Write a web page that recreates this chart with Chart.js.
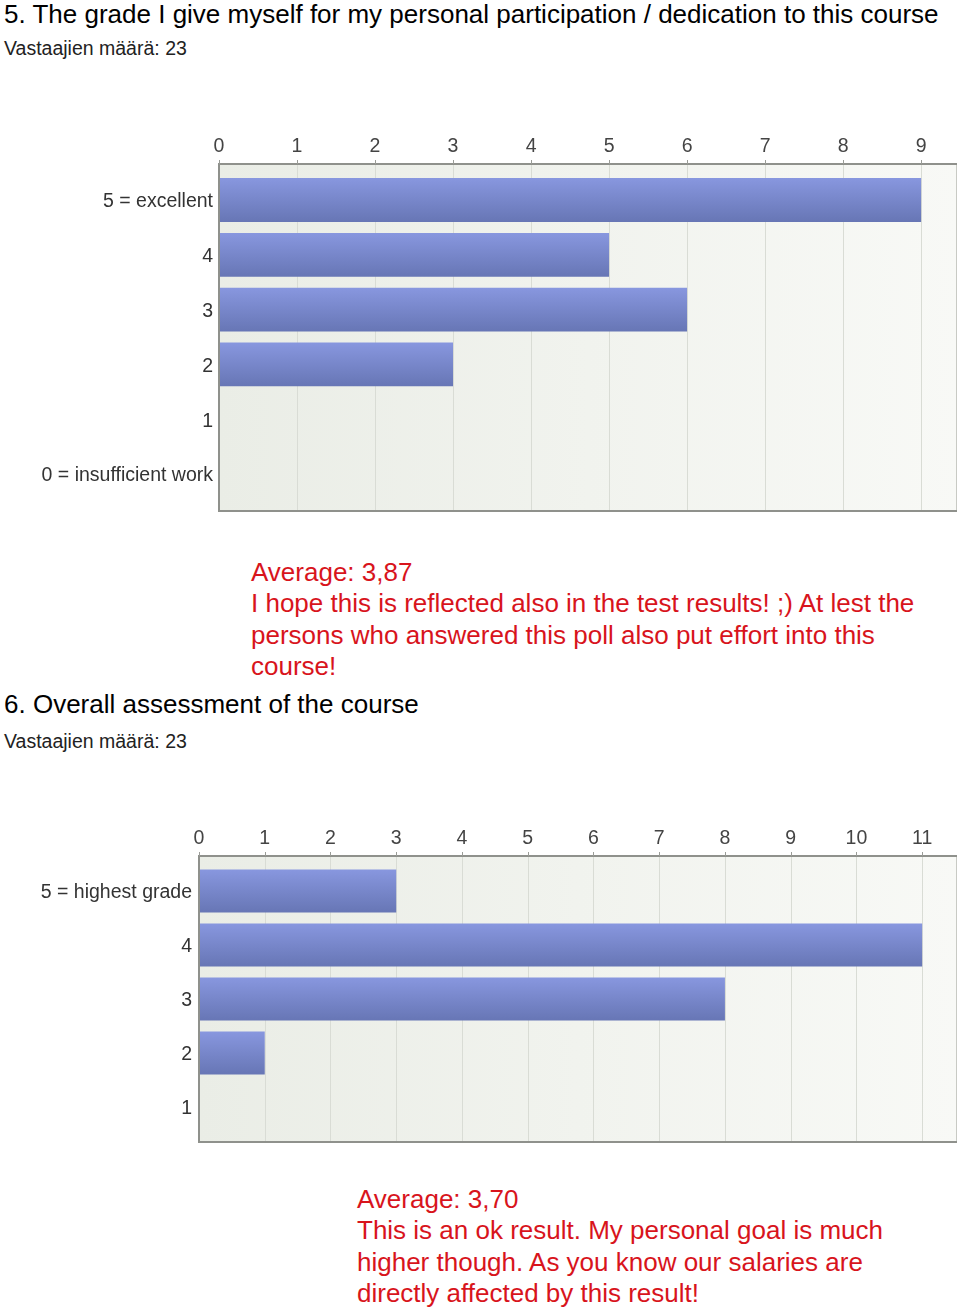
<!DOCTYPE html>
<html>
<head>
<meta charset="utf-8">
<script src="https://cdn.jsdelivr.net/npm/chart.js@4"></script>
<style>
  body { margin: 0; width: 960px; height: 1315px; background: #fff; position: relative; overflow: hidden;
         font-family: "Liberation Sans", Arial, sans-serif; }
  .txt { position: absolute; white-space: nowrap; }
  .q { font-size: 26px; line-height: 31.5px; color: #000; left: 4px; }
  .n { font-size: 19.5px; line-height: 24px; color: #222; left: 4px; }
  .red { font-size: 26px; line-height: 31.5px; color: #d8141c; }
  canvas { position: absolute; left: 0; }
</style>
</head>
<body>
<div class="txt q" style="top:-1px">5. The grade I give myself for my personal participation / dedication to this course</div>
<div class="txt n" style="top:36px">Vastaajien määrä: 23</div>
<canvas id="grade1" width="960" height="400" style="top:120px"></canvas>
<div class="txt red" style="top:556.5px;left:251px">Average: 3,87<br>I hope this is reflected also in the test results! ;) At lest the<br>persons who answered this poll also put effort into this<br>course!</div>
<div class="txt q" style="top:688.5px">6. Overall assessment of the course</div>
<div class="txt n" style="top:729px">Vastaajien määrä: 23</div>
<canvas id="grade2" width="960" height="340" style="top:810px"></canvas>
<div class="txt red" style="top:1183.5px;left:357px">Average: 3,70<br>This is an ok result. My personal goal is much<br>higher though. As you know our salaries are<br>directly affected by this result!</div>

<script>
// --- data ---
const labels1 = ['5 = excellent', '4', '3', '2', '1', '0 = insufficient work'];
const counts1 = [9, 5, 6, 3, 0, 0];
const ticks1 = [0, 1, 2, 3, 4, 5, 6, 7, 8, 9];

const labels2 = ['5 = highest grade', '4', '3', '2', '1'];
const counts2 = [3, 11, 8, 1, 0];
const ticks2 = [0, 1, 2, 3, 4, 5, 6, 7, 8, 9, 10, 11];

const font = { family: '"Liberation Sans", Arial, sans-serif', size: 19.5 };
const barPct = 0.8;

// vertical gradient per bar, placed with the category scale
function barFill(c) {
    const chart = c.chart;
    const y = chart.scales.y;
    if (!chart.chartArea || !y) return '#7888cc';
    const cy = y.getPixelForValue(c.dataIndex);
    const h = y.height / chart.data.labels.length * barPct;
    const g = chart.ctx.createLinearGradient(0, cy - h / 2, 0, cy + h / 2);
    g.addColorStop(0, '#8897df');
    g.addColorStop(1, '#6776b5');
    return g;
}

// background, grid lines and frame, drawn a little outside the chart area like the original
const framePlugin = {
    id: 'frame',
    beforeDatasetsDraw(chart, args, opts) {
        const { ctx, chartArea: a, scales: { x } } = chart;
        const top = a.top - opts.padTop, bottom = a.bottom + opts.padBottom;
        ctx.save();
        const bg = ctx.createLinearGradient(a.left, 0, a.right, 0);
        bg.addColorStop(0, '#eaede6');
        bg.addColorStop(1, '#f8f9f6');
        ctx.fillStyle = bg;
        ctx.fillRect(a.left, top, a.right - a.left, bottom - top);
        ctx.strokeStyle = '#d9dcd5';
        ctx.lineWidth = 1;
        x.ticks.forEach(t => {
            const px = Math.round(x.getPixelForValue(t.value)) + 0.5;
            ctx.beginPath();
            ctx.moveTo(px, top);
            ctx.lineTo(px, bottom);
            ctx.stroke();
        });
        ctx.restore();
    },
    afterDraw(chart, args, opts) {
        const { ctx, chartArea: a, scales: { x } } = chart;
        const top = a.top - opts.padTop, bottom = a.bottom + opts.padBottom;
        ctx.save();
        ctx.lineWidth = 1;
        ctx.strokeStyle = '#c8cac4';
        ctx.strokeRect(a.left + 0.5, top + 0.5, a.right - a.left - 1, bottom - top - 1);
        ctx.strokeStyle = '#8f918c';
        ctx.lineWidth = 2;
        ctx.beginPath();
        ctx.moveTo(a.right, top);
        ctx.lineTo(a.left, top);
        ctx.lineTo(a.left, bottom);
        ctx.lineTo(a.right, bottom);
        ctx.stroke();
        ctx.lineWidth = 1;
        ctx.strokeStyle = '#9a9c97';
        x.ticks.forEach(t => {
            const px = Math.round(x.getPixelForValue(t.value)) + 0.5;
            ctx.beginPath();
            ctx.moveTo(px, top - 4);
            ctx.lineTo(px, top);
            ctx.stroke();
        });
        ctx.restore();
    }
};

function makeChart(id, labels, counts, tickVals, xMax, yWidth, axisH, padBottom, labelPad, tickPad, framePad) {
    return new Chart(document.getElementById(id), {
        type: 'bar',
        data: {
            labels: labels,
            datasets: [{
                data: counts,
                backgroundColor: barFill,
                borderWidth: 0,
                barPercentage: barPct,
                categoryPercentage: 1
            }]
        },
        options: {
            indexAxis: 'y',
            responsive: false,
            animation: false,
            layout: { padding: { top: 0, left: 0, right: 3, bottom: padBottom } },
            scales: {
                x: {
                    position: 'top',
                    min: 0,
                    max: xMax,
                    afterBuildTicks: s => { s.ticks = tickVals.map(v => ({ value: v })); },
                    afterFit: s => { s.height = axisH; s.paddingLeft = 0; s.paddingRight = 0; },
                    grid: { display: false, drawTicks: false },
                    border: { display: false },
                    ticks: { color: '#444', font: font, padding: tickPad }
                },
                y: {
                    afterFit: s => { s.width = yWidth; s.paddingTop = 0; s.paddingBottom = 0; },
                    grid: { display: false, drawTicks: false },
                    border: { display: false },
                    ticks: { color: '#333', font: font, padding: labelPad, labelOffset: 2 }
                }
            },
            plugins: {
                legend: { display: false },
                tooltip: { enabled: false },
                frame: framePad
            }
        },
        plugins: [framePlugin]
    });
}

makeChart('grade1', labels1, counts1, ticks1, 9.46, 219, 52.6, 18.6, 6, 14.5, { padTop: 8.6, padBottom: 9.6 });
makeChart('grade2', labels2, counts2, ticks2, 11.53, 199, 54, 16, 7, 13.5, { padTop: 8, padBottom: 8 });
</script>
</body>
</html>
